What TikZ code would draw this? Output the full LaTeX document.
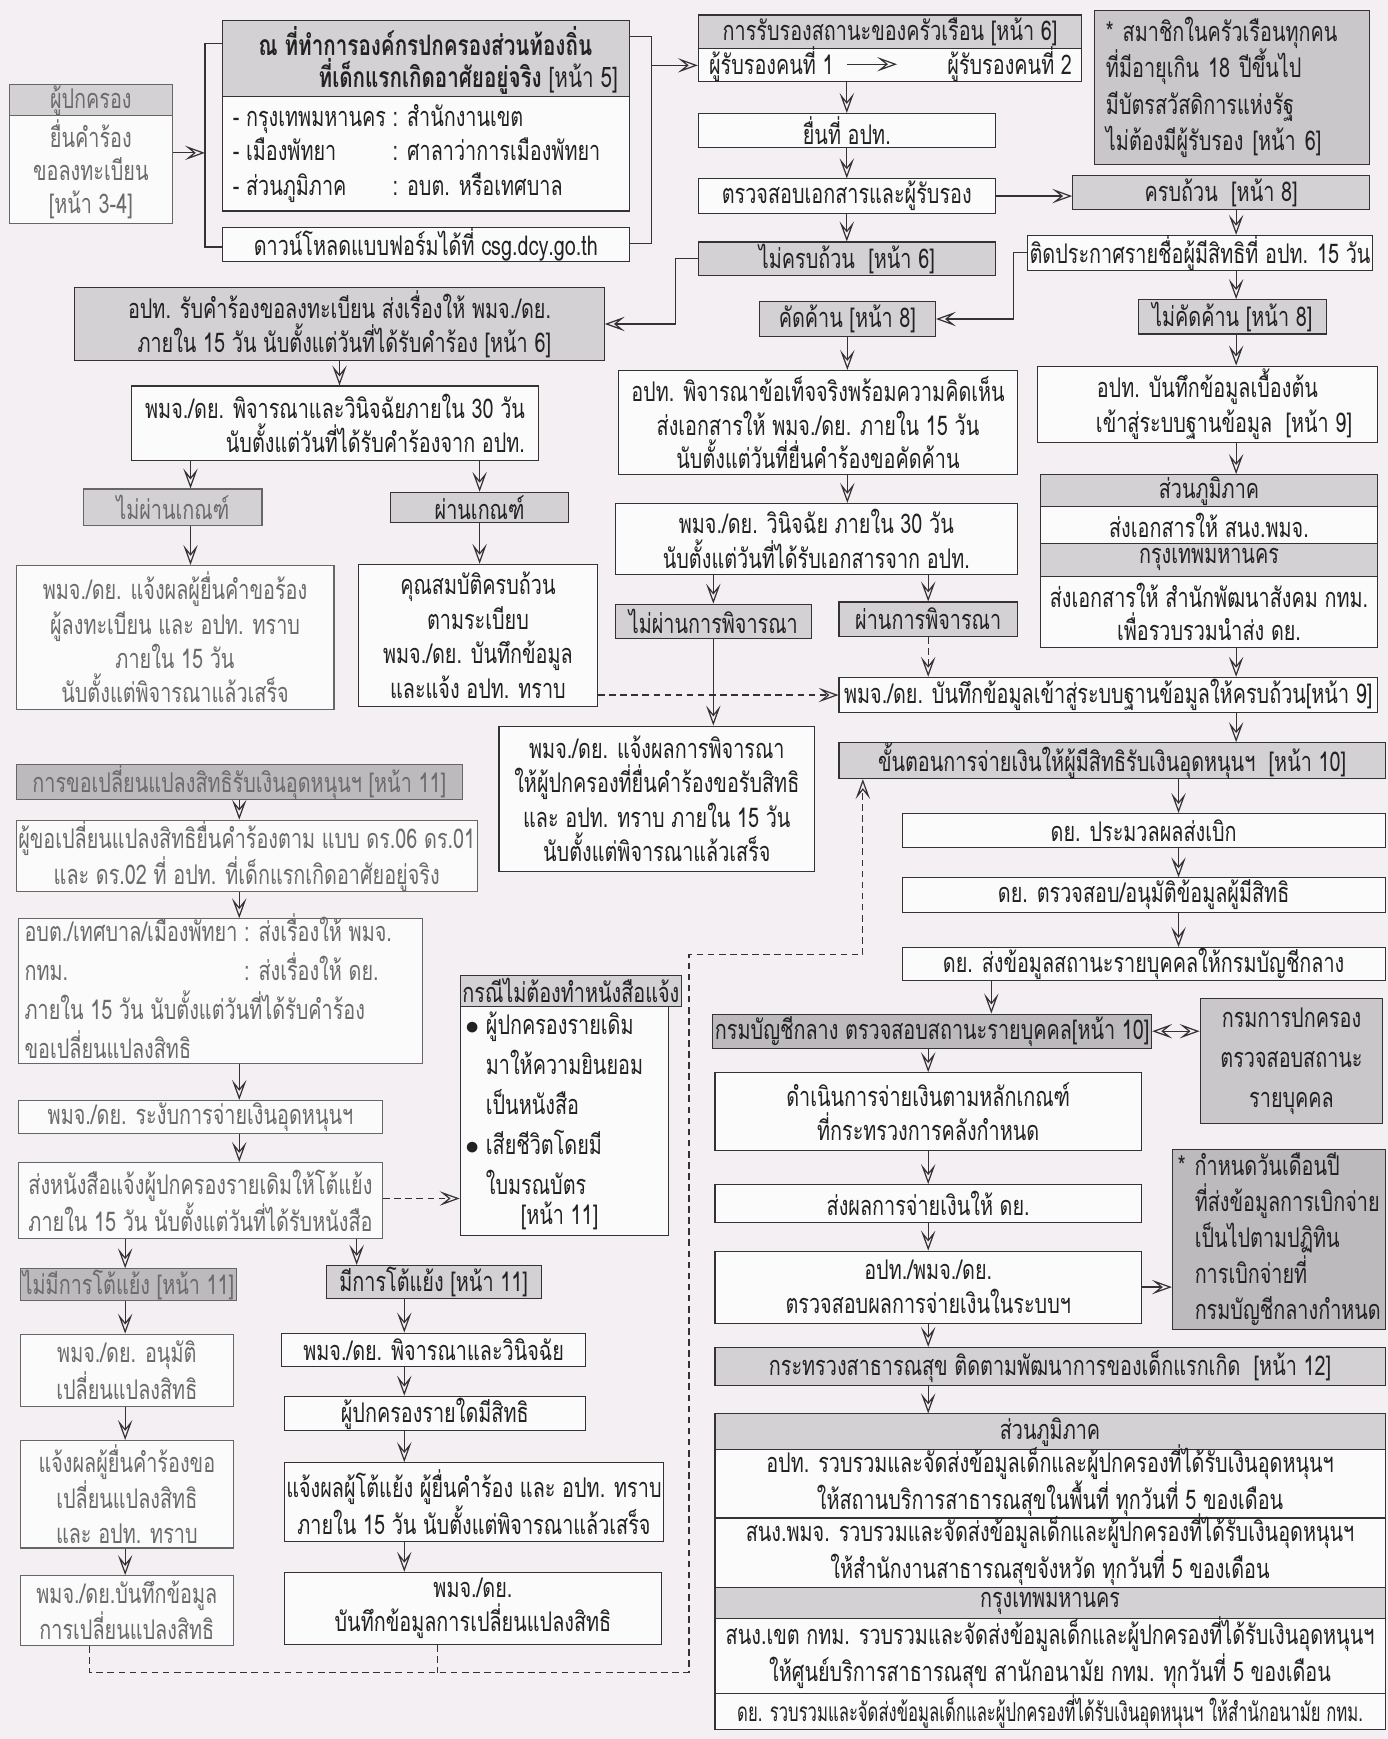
\documentclass[tikz,border=0pt]{standalone}
\usepackage{fontspec}
\setmainfont{Loma}[Script=Thai,FakeStretch=0.73]
\newfontfamily\narrowfont{Loma}[Script=Thai,FakeStretch=0.64]
\usetikzlibrary{arrows.meta,calc}
\definecolor{bg}{HTML}{F3EFF3}
\definecolor{ln}{HTML}{333333}
\definecolor{txt}{HTML}{222222}
\definecolor{wbox}{HTML}{FCFBFC}
\definecolor{gfill}{HTML}{D3D1D3}
\definecolor{dfill}{HTML}{BCBABC}
\definecolor{nfill}{HTML}{C9C7C9}
\newcommand\hnref[1]{{[}หน้า #1{]}}
\newcommand\mybox[7]{\node[#1, anchor=north west, minimum width={(#5-#3)*1pt}, minimum height={(#6-#4)*1pt}] (#2) at (#3,#4) {#7};}
\begin{document}
\begin{tikzpicture}[x=1pt,y=-1pt,
  every node/.style={font=\fontsize{24.5}{31}\selectfont, text=txt, inner xsep=2pt, inner ysep=0pt},
  box/.style={draw=ln, line width=1pt, fill=wbox, align=center},
  gbox/.style={box, fill=gfill},
  dbox/.style={box, fill=dfill},
  nbox/.style={box, fill=nfill},
  fade/.style={text=black!58, draw=ln!75},
  fadetext/.style={text=black!58},
  plain/.style={draw=ln, line width=1.1pt},
  tip/.tip={Stealth[open,length=18pt,width=13pt,inset=8pt,line width=1.1pt]},
  arr/.style={plain, -tip},
  dline/.style={plain, dash pattern=on 6pt off 4pt},
  darr/.style={dline, -tip},
  biarr/.style={plain, tip-tip},
  intext/.style={align=center, font=\fontsize{24.5}{29.5}\selectfont}]
\fill[bg] (0,0) rectangle (1253,1570);
\useasboundingbox (0,0) rectangle (1253,1570);

% ---------------- top left
\mybox{gbox,fade}{Ah}{8}{76}{155}{104}{ผู้ปกครอง}
\mybox{box,fade,font=\fontsize{24.5}{30}\selectfont}{Ab}{8}{104}{155}{201}{ยื่นคำร้อง\\ขอลงทะเบียน\\\hnref{3-4}}
\mybox{gbox}{Bh}{200}{18}{568}{87}{}
\node[font=\fontsize{25.5}{30}\selectfont\bfseries] (Bh1) at (384,37) {ณ ที่ทำการองค์กรปกครองส่วนท้องถิ่น};
\node[anchor=east,font=\fontsize{25.5}{30}\selectfont] (Bh2) at (560,69) {\textbf{ที่เด็กแรกเกิดอาศัยอยู่จริง} \hnref{5}};
\mybox{box}{Bb}{200}{87}{568}{190}{}
\node[anchor=west] (Bbt) at ([xshift=8pt]Bb.west) {\begin{tabular}{@{}l@{ }l@{}}- กรุงเทพมหานคร & : สำนักงานเขต\\- เมืองพัทยา & : ศาลาว่าการเมืองพัทยา\\- ส่วนภูมิภาค & : อบต. หรือเทศบาล\end{tabular}};
\mybox{box}{C}{200}{205}{568}{233}{ดาวน์โหลดแบบฟอร์มได้ที่ csg.dcy.go.th}
\coordinate (bl1) at (185,39);
\coordinate (bl2) at (185,223);
\coordinate (ba) at (185,138);
\draw[plain] (bl1 -| Bh.west) -- (bl1) -- (bl2) -- (bl2 -| C.west);
\draw[arr] (ba -| Ab.east) -- (ba);
\coordinate (br1) at (588,33);
\coordinate (br2) at (588,220);
\coordinate (bra) at (588,59);
\draw[plain] (br1 -| Bh.east) -- (br1) -- (br2) -- (br2 -| C.east);

% ---------------- top middle
\mybox{gbox}{Dh}{630}{13}{976}{43}{การรับรองสถานะของครัวเรือน \hnref{6}}
\mybox{box}{Db}{630}{43}{976}{73}{}
\node[anchor=west] (D1) at (638,58) {ผู้รับรองคนที่ 1};
\node[anchor=east] (D2) at (970,58) {ผู้รับรองคนที่ 2};
\draw[arr] ([xshift=10pt]D1.east) -- ([xshift=55pt]D1.east);
\draw[arr] (bra) -- (bra -| Db.west);
\mybox{box}{E}{630}{102}{898}{133}{ยื่นที่ อปท.}
\mybox{box}{F}{630}{161}{898}{192}{ตรวจสอบเอกสารและผู้รับรอง}
\mybox{gbox}{G}{630}{218}{898}{248}{ไม่ครบถ้วน\ \ \hnref{6}}
\draw[arr] (E.north |- Db.south) -- (E.north);
\draw[arr] (E.south) -- (F.north);
\draw[arr] (F.south) -- (G.north);

% ---------------- top right
\mybox{nbox,align=left,text width=228pt,font=\fontsize{24.5}{33}\selectfont}{I}{988}{9}{1236}{148}{* สมาชิกในครัวเรือนทุกคน\\ที่มีอายุเกิน 18 ปีขึ้นไป\\มีบัตรสวัสดิการแห่งรัฐ\\ไม่ต้องมีผู้รับรอง \hnref{6}}
\mybox{gbox}{H}{968}{158}{1236}{189}{ครบถ้วน\ \ \hnref{8}}
\draw[arr] (F.east) -- (F.east -| H.west);
\mybox{box}{J}{927}{212}{1238}{242}{ติดประกาศรายชื่อผู้มีสิทธิที่ อปท. 15 วัน}
\coordinate (cR) at (1116,0);
\draw[arr] (H.south -| cR) -- (J.north -| cR);
\mybox{gbox}{K}{685}{272}{844}{303}{คัดค้าน \hnref{8}}
\mybox{gbox}{L}{1027}{270}{1197}{301}{ไม่คัดค้าน \hnref{8}}
\draw[arr] (J.south -| cR) -- (L.north -| cR);
\coordinate (jk) at (915,0);
\draw[arr] (J.west) -- (J.west -| jk) -- (K.east -| jk) -- (K.east);

% ---------------- left middle
\mybox{gbox,align=right}{M}{67}{259}{545}{325}{อปท. รับคำร้องขอลงทะเบียน ส่งเรื่องให้ พมจ./ดย.\\ภายใน 15 วัน นับตั้งแต่วันที่ได้รับคำร้อง \hnref{6}}
\coordinate (gm) at (610,0);
\draw[arr] (G.west) -- (G.west -| gm) -- (M.east -| gm) -- (M.east);
\mybox{box,align=right}{N}{118}{348}{486}{415}{พมจ./ดย. พิจารณาและวินิจฉัยภายใน 30 วัน\\นับตั้งแต่วันที่ได้รับคำร้องจาก อปท.}
\draw[arr] (M.south) -- (M.south |- N.north);
\mybox{gbox,fade}{O}{75}{441}{236}{474}{ไม่ผ่านเกณฑ์}
\mybox{gbox}{P}{352}{444}{513}{471}{ผ่านเกณฑ์}
\coordinate (cO) at (172,0);
\draw[arr] (N.south -| cO) -- (O.north -| cO);
\draw[arr] (N.south -| P.north) -- (P.north);
\mybox{box,fade}{Q}{14}{510}{301}{640}{พมจ./ดย. แจ้งผลผู้ยื่นคำขอร้อง\\ผู้ลงทะเบียน และ อปท. ทราบ\\ภายใน 15 วัน\\นับตั้งแต่พิจารณาแล้วเสร็จ}
\mybox{box}{R}{323}{509}{539}{637}{คุณสมบัติครบถ้วน\\ตามระเบียบ\\พมจ./ดย. บันทึกข้อมูล\\และแจ้ง อปท. ทราบ}
\draw[arr] (O.south -| cO) -- (Q.north -| cO);
\draw[arr] (P.south) -- (P.south |- R.north);

% ---------------- middle
\mybox{box,font=\fontsize{24.5}{30}\selectfont}{S}{558}{334}{918}{428}{อปท. พิจารณาข้อเท็จจริงพร้อมความคิดเห็น\\ส่งเอกสารให้ พมจ./ดย. ภายใน 15 วัน\\นับตั้งแต่วันที่ยื่นคำร้องขอคัดค้าน}
\draw[arr] (K.south) -- (K.south |- S.north);
\mybox{box}{T}{936}{330}{1243}{399}{อปท. บันทึกข้อมูลเบื้องต้น\\\hspace*{30pt}เข้าสู่ระบบฐานข้อมูล\ \ \hnref{9}}
\draw[arr] (L.south -| cR) -- (T.north -| cR);
\mybox{gbox}{U1}{939}{428}{1243}{457}{ส่วนภูมิภาค}
\mybox{box}{U2}{939}{457}{1243}{490}{ส่งเอกสารให้ สนง.พมจ.}
\mybox{gbox}{U3}{939}{490}{1243}{520}{กรุงเทพมหานคร}
\mybox{box,font=\fontsize{24.5}{30}\selectfont}{U4}{939}{520}{1243}{584}{ส่งเอกสารให้ สำนักพัฒนาสังคม กทม.\\เพื่อรวบรวมนำส่ง ดย.}
\draw[arr] (T.south -| cR) -- (U1.north -| cR);
\mybox{box}{V}{555}{454}{918}{518}{พมจ./ดย. วินิจฉัย ภายใน 30 วัน\\นับตั้งแต่วันที่ได้รับเอกสารจาก อปท.}
\draw[arr] (S.south -| K.south) -- (V.north -| K.south);
\mybox{gbox}{W}{555}{545}{732}{576}{ไม่ผ่านการพิจารณา}
\mybox{gbox}{X}{757}{543}{918}{574}{ผ่านการพิจารณา}
\draw[arr] (V.south -| W.north) -- (W.north);
\draw[arr] (V.south -| X.north) -- (X.north);
\mybox{box}{Y}{757}{611}{1243}{643}{พมจ./ดย. บันทึกข้อมูลเข้าสู่ระบบฐานข้อมูลให้ครบถ้วน\hnref{9}}
\draw[darr] (X.south) -- (X.south |- Y.north);
\draw[arr] (U4.south -| cR) -- (Y.north -| cR);
\draw[darr] (R.east |- Y.west) -- (Y.west);
\mybox{box}{Z}{450}{655}{735}{786}{พมจ./ดย. แจ้งผลการพิจารณา\\ให้ผู้ปกครองที่ยื่นคำร้องขอรับสิทธิ\\และ อปท. ทราบ ภายใน 15 วัน\\นับตั้งแต่พิจารณาแล้วเสร็จ}
\draw[arr] (W.south) -- (W.south |- Z.north);

% ---------------- payment column
\mybox{gbox}{AA}{757}{670}{1250}{701}{ขั้นตอนการจ่ายเงินให้ผู้มีสิทธิรับเงินอุดหนุนฯ\ \ \hnref{10}}
\draw[arr] (Y.south -| cR) -- (AA.north -| cR);
\coordinate (cP) at (1064,0);
\mybox{box}{AB}{814}{734}{1250}{765}{ดย. ประมวลผลส่งเบิก}
\mybox{box}{AC}{814}{792}{1250}{823}{ดย. ตรวจสอบ/อนุมัติข้อมูลผู้มีสิทธิ}
\mybox{box}{AD}{814}{855}{1250}{885}{ดย. ส่งข้อมูลสถานะรายบุคคลให้กรมบัญชีกลาง}
\draw[arr] (AA.south -| cP) -- (AB.north -| cP);
\draw[arr] (AB.south -| cP) -- (AC.north -| cP);
\draw[arr] (AC.south -| cP) -- (AD.north -| cP);
\mybox{dbox}{AE}{643}{915}{1030}{946}{กรมบัญชีกลาง ตรวจสอบสถานะรายบุคคล\hnref{10}}
\coordinate (cQ) at (895,0);
\draw[arr] (AD.south -| cQ) -- (AE.north -| cQ);
\mybox{nbox,font=\fontsize{24.5}{36}\selectfont}{AF}{1083}{901}{1248}{1014}{กรมการปกครอง\\ตรวจสอบสถานะ\\รายบุคคล}
\draw[biarr] (AE.east) -- (AE.east -| AF.west);
\mybox{box}{AG}{645}{968}{1030}{1038}{ดำเนินการจ่ายเงินตามหลักเกณฑ์\\ที่กระทรวงการคลังกำหนด}
\draw[arr] (AE.south -| AG.north) -- (AG.north);
\mybox{box}{AH}{645}{1069}{1030}{1103}{ส่งผลการจ่ายเงินให้ ดย.}
\mybox{box}{AI}{645}{1129}{1030}{1194}{อปท./พมจ./ดย.\\ตรวจสอบผลการจ่ายเงินในระบบฯ}
\draw[arr] (AG.south) -- (AH.north);
\draw[arr] (AH.south) -- (AI.north);
\mybox{dbox,align=left,text width=182pt,font=\fontsize{24.5}{32.5}\selectfont}{AJ}{1058}{1037}{1250}{1200}{* กำหนดวันเดือนปี\\\hphantom{*\ }ที่ส่งข้อมูลการเบิกจ่าย\\\hphantom{*\ }เป็นไปตามปฏิทิน\\\hphantom{*\ }การเบิกจ่ายที่\\\hphantom{*\ }กรมบัญชีกลางกำหนด}
\draw[arr] (AI.east) -- (AI.east -| AJ.west);
\mybox{gbox}{AK}{645}{1216}{1250}{1250}{กระทรวงสาธารณสุข ติดตามพัฒนาการของเด็กแรกเกิด\ \ \hnref{12}}
\draw[arr] (AI.south) -- (AI.south |- AK.north);
\mybox{gbox}{AL1}{645}{1276}{1250}{1308}{ส่วนภูมิภาค}
\mybox{box}{AL2}{645}{1308}{1250}{1370}{}
\node[intext] (AL2t) at ([yshift=3pt]AL2.center) {อปท. รวบรวมและจัดส่งข้อมูลเด็กและผู้ปกครองที่ได้รับเงินอุดหนุนฯ\\ให้สถานบริการสาธารณสุขในพื้นที่ ทุกวันที่ 5 ของเดือน};
\mybox{box}{AL3}{645}{1370}{1250}{1433}{}
\node[intext] (AL3t) at ([yshift=3pt]AL3.center) {สนง.พมจ. รวบรวมและจัดส่งข้อมูลเด็กและผู้ปกครองที่ได้รับเงินอุดหนุนฯ\\ให้สำนักงานสาธารณสุขจังหวัด ทุกวันที่ 5 ของเดือน};
\mybox{gbox}{AL4}{645}{1433}{1250}{1461}{กรุงเทพมหานคร}
\mybox{box}{AL5}{645}{1461}{1250}{1528}{}
\node[intext] (AL5t) at ([yshift=3pt]AL5.center) {สนง.เขต กทม. รวบรวมและจัดส่งข้อมูลเด็กและผู้ปกครองที่ได้รับเงินอุดหนุนฯ\\ให้ศูนย์บริการสาธารณสุข สานักอนามัย กทม. ทุกวันที่ 5 ของเดือน};
\mybox{box,font=\fontsize{23.5}{26}\narrowfont}{AL6}{645}{1528}{1250}{1561}{ดย. รวบรวมและจัดส่งข้อมูลเด็กและผู้ปกครองที่ได้รับเงินอุดหนุนฯ ให้สำนักอนามัย กทม.}
\draw[arr] (AK.south -| AI.south) -- (AL1.north -| AI.south);

% ---------------- left lower
\mybox{dbox,fade}{BA}{14}{690}{417}{715}{การขอเปลี่ยนแปลงสิทธิรับเงินอุดหนุนฯ \hnref{11}}
\mybox{box,fade}{BB}{14}{740}{417}{804}{ผู้ขอเปลี่ยนแปลงสิทธิยื่นคำร้องตาม แบบ ดร.06 ดร.01\\และ ดร.02 ที่ อปท. ที่เด็กแรกเกิดอาศัยอยู่จริง}
\mybox{box,fade}{BC}{16}{829}{381}{960}{}
\node[anchor=west,fadetext,font=\fontsize{24.5}{32.5}\selectfont] (BCt) at ([xshift=4pt]BC.west) {\begin{tabular}{@{}l@{ }l@{}}อบต./เทศบาล/เมืองพัทยา & : ส่งเรื่องให้ พมจ.\\กทม. & : ส่งเรื่องให้ ดย.\\\multicolumn{2}{@{}l@{}}{ภายใน 15 วัน นับตั้งแต่วันที่ได้รับคำร้อง}\\\multicolumn{2}{@{}l@{}}{ขอเปลี่ยนแปลงสิทธิ}\end{tabular}};
\mybox{box,fade}{BD}{16}{993}{345}{1023}{พมจ./ดย. ระงับการจ่ายเงินอุดหนุนฯ}
\mybox{box,fade}{BE}{16}{1049}{345}{1118}{ส่งหนังสือแจ้งผู้ปกครองรายเดิมให้โต้แย้ง\\ภายใน 15 วัน นับตั้งแต่วันที่ได้รับหนังสือ}
\coordinate (cL) at (216,0);
\draw[arr] (BA.south -| cL) -- (BB.north -| cL);
\draw[arr] (BB.south -| cL) -- (BC.north -| cL);
\draw[arr] (BC.south -| cL) -- (BD.north -| cL);
\draw[arr] (BD.south -| cL) -- (BE.north -| cL);
\mybox{gbox}{BFh}{415}{880}{603}{908}{กรณีไม่ต้องทำหนังสือแจ้ง}
\mybox{box}{BFb}{415}{908}{603}{1115}{}
\node[anchor=west,align=left,font=\fontsize{24.5}{36}\selectfont] (BFt) at ([xshift=3pt]BFb.west) {$\bullet$ ผู้ปกครองรายเดิม\\\hphantom{$\bullet$\ }มาให้ความยินยอม\\\hphantom{$\bullet$\ }เป็นหนังสือ\\$\bullet$ เสียชีวิตโดยมี\\\hphantom{$\bullet$\ }ใบมรณบัตร\\[-9pt]\hspace*{50pt}\hnref{11}};
\coordinate (bf) at (0,1082);
\draw[darr] (BE.east |- bf) -- (BFb.west |- bf);
\mybox{dbox,fade}{BG}{18}{1145}{212}{1174}{ไม่มีการโต้แย้ง \hnref{11}}
\mybox{gbox}{BH}{294}{1142}{488}{1172}{มีการโต้แย้ง \hnref{11}}
\coordinate (cG) at (113,0);
\coordinate (cH) at (322,0);
\coordinate (cI) at (365,0);
\draw[arr] (BE.south -| cG) -- (BG.north -| cG);
\draw[arr] (BE.south -| cH) -- (BH.north -| cH);
\mybox{box,fade}{BI}{18}{1204}{210}{1269}{พมจ./ดย. อนุมัติ\\เปลี่ยนแปลงสิทธิ}
\mybox{box,fade}{BJ}{18}{1300}{210}{1397}{แจ้งผลผู้ยื่นคำร้องขอ\\เปลี่ยนแปลงสิทธิ\\และ อปท. ทราบ}
\mybox{box,fade}{BK}{18}{1422}{210}{1485}{พมจ./ดย.บันทึกข้อมูล\\การเปลี่ยนแปลงสิทธิ}
\draw[arr] (BG.south -| cG) -- (BI.north -| cG);
\draw[arr] (BI.south -| cG) -- (BJ.north -| cG);
\draw[arr] (BJ.south -| cG) -- (BK.north -| cG);
\mybox{box}{BL}{254}{1203}{528}{1233}{พมจ./ดย. พิจารณาและวินิจฉัย}
\mybox{box}{BM}{256}{1260}{528}{1291}{ผู้ปกครองรายใดมีสิทธิ}
\mybox{box}{BN}{256}{1320}{595}{1391}{แจ้งผลผู้โต้แย้ง ผู้ยื่นคำร้อง และ อปท. ทราบ\\ภายใน 15 วัน นับตั้งแต่พิจารณาแล้วเสร็จ}
\mybox{box}{BO}{256}{1419}{597}{1484}{พมจ./ดย.\\บันทึกข้อมูลการเปลี่ยนแปลงสิทธิ}
\draw[arr] (BH.south -| cI) -- (BL.north -| cI);
\draw[arr] (BL.south -| cI) -- (BM.north -| cI);
\draw[arr] (BM.south -| cI) -- (BN.north -| cI);
\draw[arr] (BN.south -| cI) -- (BO.north -| cI);

% ---------------- dashed return loop
\coordinate (lp1) at (81,1510);
\coordinate (lp2) at (622,1510);
\coordinate (lp3) at (622,862);
\coordinate (lp4) at (779,862);
\coordinate (lp5) at (395,1510);
\draw[darr] (BK.south -| lp1) -- (lp1) -- (lp2) -- (lp3) -- (lp4) -- (lp4 |- AA.south);
\draw[dline] (BO.south -| lp5) -- (lp5);
\end{tikzpicture}
\end{document}
